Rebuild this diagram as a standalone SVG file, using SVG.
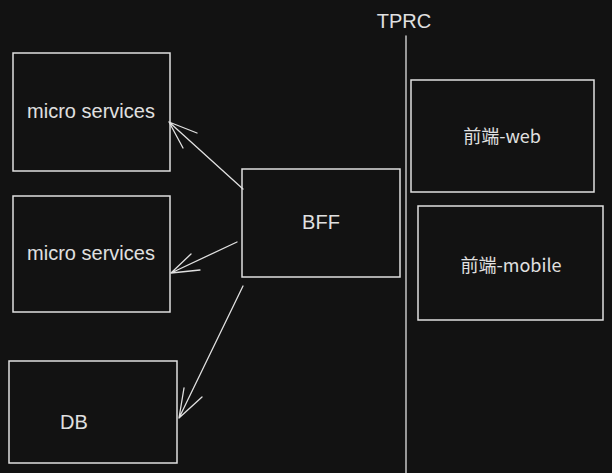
<svg xmlns="http://www.w3.org/2000/svg" width="612" height="473" viewBox="0 0 612 473">
<style>
.box{fill:none;stroke:#e0e0e0;stroke-width:1.5}
.t{fill:#e0e0e0;font-family:"Liberation Sans",Arial,sans-serif;font-size:20px;text-anchor:middle}
.h{fill:#e0e0e0;font-family:"Noto Sans CJK SC","Noto Sans",sans-serif;font-size:18px;text-anchor:middle}
.c{fill:none;stroke:#e0e0e0;stroke-width:1.3;stroke-linecap:round}
</style>
<rect width="612" height="473" fill="#121212"/>
<g id="tprc">
<text class="t" x="404" y="28">TPRC</text>
<line class="c" x1="406" y1="36" x2="406" y2="473" stroke-width="1.6"/>
</g>
<g id="micro1"><rect class="box" x="13" y="53" width="157" height="118"/><text class="t" x="91" y="118">micro services</text></g>
<g id="micro2"><rect class="box" x="13" y="196" width="157" height="116"/><text class="t" x="91" y="260">micro services</text></g>
<g id="db"><rect class="box" x="9" y="361" width="168" height="102"/><text class="t" x="74" y="429">DB</text></g>
<g id="bff"><rect class="box" x="242" y="169" width="158" height="108"/><text class="t" x="321" y="229">BFF</text></g>
<g id="web"><rect class="box" x="411" y="80" width="183" height="112"/><text class="h" x="502" y="143">前端-web</text></g>
<g id="mobile"><rect class="box" x="418" y="206" width="185" height="114"/><text class="h" x="511" y="272">前端-mobile</text></g>
<g id="connectors">
<path class="c" d="M243 189 L169 122 M169 122 L197 133 M169 122 L183 148"/>
<path class="c" d="M237 242 L171 273 M171 273 L191 254 M171 273 L200 270"/>
<path class="c" d="M243 286 L179 418 M179 418 L202 397 M179 418 L184 388"/>
</g>
</svg>
